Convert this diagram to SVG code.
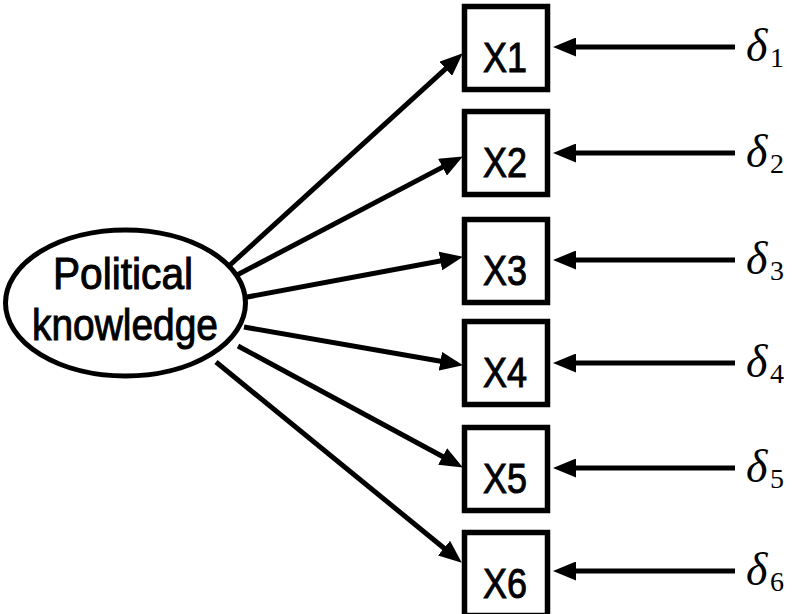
<svg xmlns="http://www.w3.org/2000/svg" width="797" height="614" viewBox="0 0 797 614">
<style>
.box{fill:#fff;stroke:#000;stroke-width:5.5}
.lbl{font-family:"Liberation Sans",Arial,sans-serif;font-size:43px;fill:#000;stroke:#000;stroke-width:1;text-anchor:middle}
.big{font-size:45px}
.conn{stroke:#000;stroke-width:5;fill:none;marker-end:url(#ah)}
.d{font-family:"Liberation Serif","DejaVu Serif",serif;font-style:italic;font-size:46px;fill:#000}
.sub{font-family:"Liberation Serif","DejaVu Serif",serif;font-size:28px;fill:#000}
</style>
<defs>
<marker id="ah" viewBox="0 0 23 19" refX="12" refY="9.5" markerWidth="23" markerHeight="19" markerUnits="userSpaceOnUse" orient="auto">
<path d="M0,0 L23,9.5 L0,19 Z" fill="#000"/>
</marker>
</defs>
<rect width="797" height="614" fill="#fff"/>
<g id="connectors">
<line class="conn" x1="230" y1="265" x2="454.6" y2="60.7"/>
<line class="conn" x1="237" y1="275" x2="453.1" y2="161.6"/>
<line class="conn" x1="242" y1="298" x2="452.2" y2="258.8"/>
<line class="conn" x1="244" y1="327" x2="452.2" y2="363.3"/>
<line class="conn" x1="238" y1="346" x2="453.2" y2="462.2"/>
<line class="conn" x1="216" y1="362" x2="453.3" y2="555.7"/>
<line class="conn" x1="735" y1="47" x2="564" y2="47"/>
<line class="conn" x1="735" y1="153" x2="564" y2="153"/>
<line class="conn" x1="735" y1="260" x2="564" y2="260"/>
<line class="conn" x1="735" y1="363" x2="564" y2="363"/>
<line class="conn" x1="735" y1="468" x2="564" y2="468"/>
<line class="conn" x1="735" y1="571" x2="564" y2="571"/>
</g>
<g id="latent">
<ellipse cx="125.5" cy="303" rx="120" ry="73" fill="#fff" stroke="#000" stroke-width="5"/>
<text class="lbl big" x="123" y="289" textLength="140" lengthAdjust="spacingAndGlyphs">Political</text>
<text class="lbl big" x="125" y="340" textLength="186" lengthAdjust="spacingAndGlyphs">knowledge</text>
</g>
<g id="X1"><rect class="box" x="464.5" y="6.5" width="83" height="83"/><text class="lbl" x="505" y="72" textLength="44" lengthAdjust="spacingAndGlyphs">X1</text></g>
<g id="X2"><rect class="box" x="464.5" y="111.5" width="83" height="83"/><text class="lbl" x="505" y="177" textLength="44" lengthAdjust="spacingAndGlyphs">X2</text></g>
<g id="X3"><rect class="box" x="464.5" y="219.5" width="83" height="83"/><text class="lbl" x="505" y="285" textLength="44" lengthAdjust="spacingAndGlyphs">X3</text></g>
<g id="X4"><rect class="box" x="464.5" y="321.5" width="83" height="83"/><text class="lbl" x="505" y="387" textLength="44" lengthAdjust="spacingAndGlyphs">X4</text></g>
<g id="X5"><rect class="box" x="464.5" y="427.5" width="83" height="83"/><text class="lbl" x="505" y="493" textLength="44" lengthAdjust="spacingAndGlyphs">X5</text></g>
<g id="X6"><rect class="box" x="464.5" y="532.5" width="83" height="83"/><text class="lbl" x="505" y="598" textLength="44" lengthAdjust="spacingAndGlyphs">X6</text></g>
<g id="d1"><text class="d" x="746" y="61">δ</text><text class="sub" x="770" y="67">1</text></g>
<g id="d2"><text class="d" x="746" y="167">δ</text><text class="sub" x="770" y="173">2</text></g>
<g id="d3"><text class="d" x="746" y="274">δ</text><text class="sub" x="770" y="280">3</text></g>
<g id="d4"><text class="d" x="746" y="377">δ</text><text class="sub" x="770" y="383">4</text></g>
<g id="d5"><text class="d" x="746" y="482">δ</text><text class="sub" x="770" y="488">5</text></g>
<g id="d6"><text class="d" x="746" y="585">δ</text><text class="sub" x="770" y="591">6</text></g>
</svg>
